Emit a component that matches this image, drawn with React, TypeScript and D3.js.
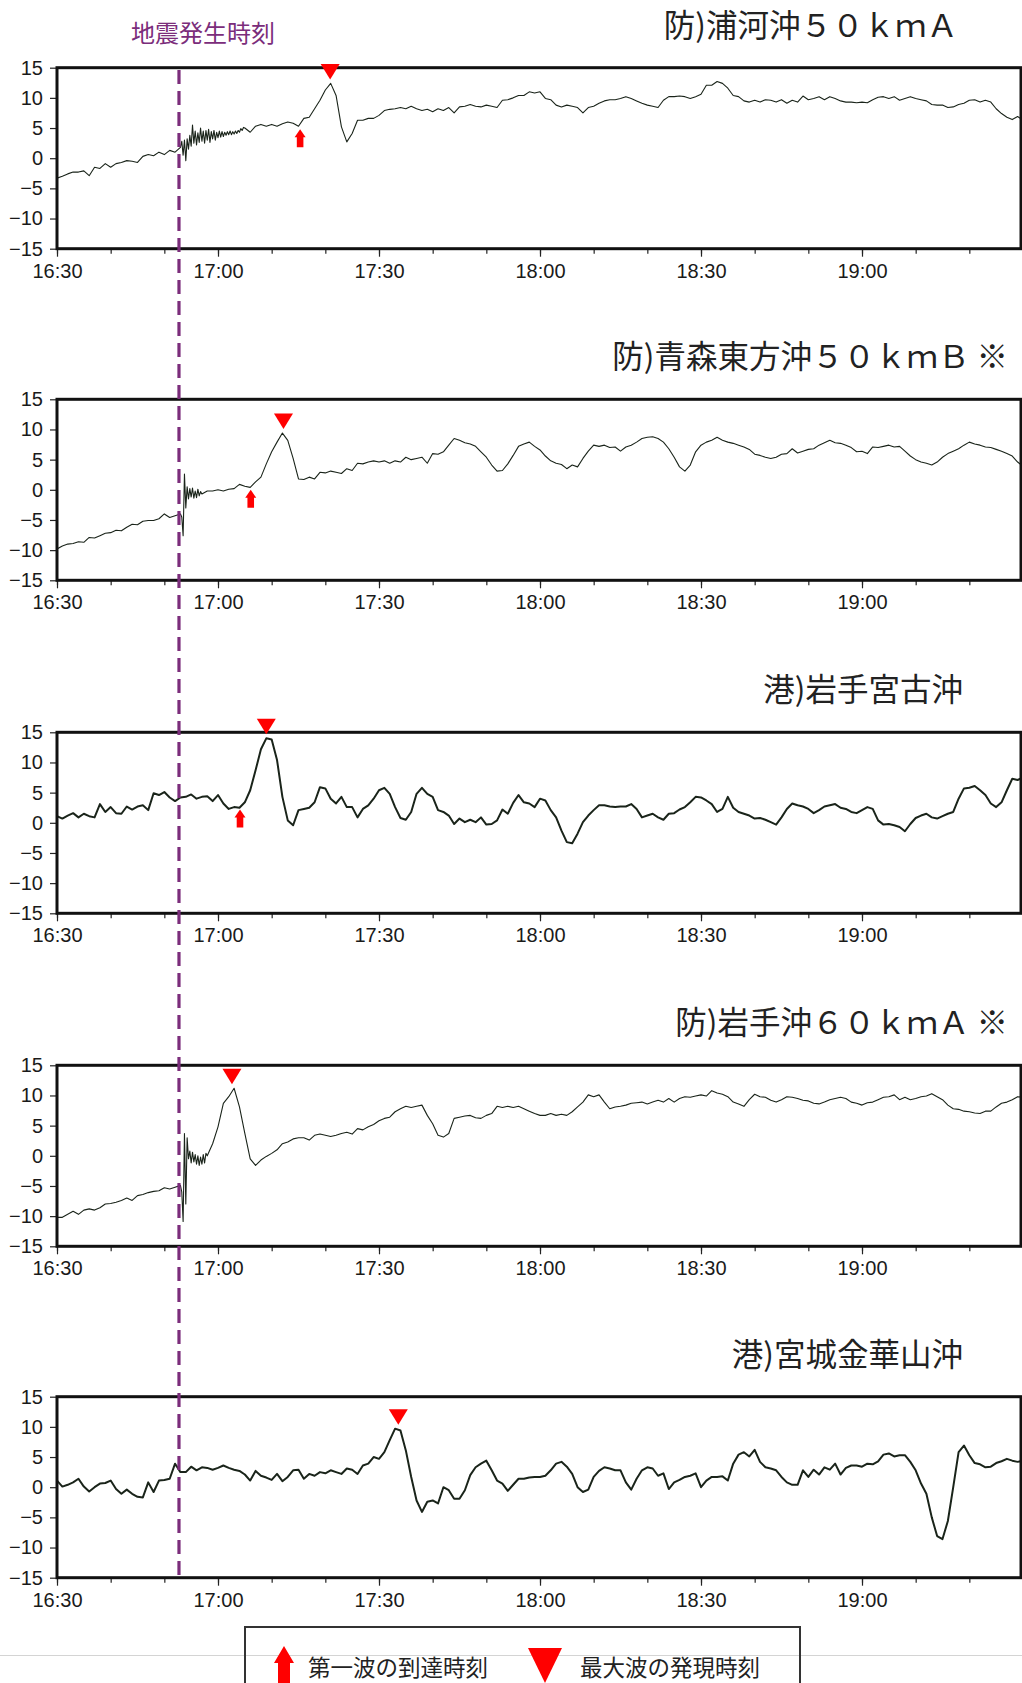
import React, { useEffect, useRef } from "react";
import * as d3 from "d3";

// tide gauge records, cm, one value per minute from 16:30
const stationNames = [
  "防)浦河沖５０ｋｍＡ",
  "防)青森東方沖５０ｋｍＢ ※",
  "港)岩手宮古沖",
  "防)岩手沖６０ｋｍＡ ※",
  "港)宮城金華山沖",
];

const urakawa = [
  -3.3, -3.0, -2.6, -2.3, -2.3, -2.1, -2.9, -1.5, -1.7, -0.9,
  -1.5, -0.9, -0.7, -0.4, -0.5, -0.7, 0.3, 0.6, 0.4, 1.0,
  0.6, 1.3, 1.0, 1.8, 2.4, 4.1, 3.0, 3.5, 3.8, 3.5,
  4.1, 4.1, 4.2, 4.3, 4.9, 5.2, 4.3, 5.3, 5.6, 5.3,
  5.6, 5.3, 5.7, 6.0, 5.8, 5.3, 6.6, 6.8, 8.2, 9.6,
  11.3, 12.4, 10.4, 5.2, 2.7, 4.1, 6.3, 6.3, 6.6, 6.6,
  7.1, 7.9, 8.1, 8.2, 8.4, 8.2, 8.6, 8.2, 7.9, 8.1,
  7.7, 8.2, 7.9, 8.4, 7.5, 8.5, 8.6, 8.9, 8.6, 8.5,
  8.8, 8.6, 8.4, 9.6, 9.7, 10.0, 10.4, 10.4, 11.0, 10.8,
  11.0, 9.9, 9.7, 8.8, 8.5, 8.8, 8.6, 8.4, 7.5, 8.4,
  8.6, 9.1, 9.5, 9.7, 9.7, 9.9, 10.2, 9.9, 9.5, 9.1,
  8.8, 8.6, 8.4, 9.6, 10.2, 10.2, 10.3, 10.2, 9.9, 10.2,
  10.6, 12.1, 12.1, 12.7, 12.4, 11.6, 10.4, 10.2, 9.5, 9.3,
  9.6, 9.3, 9.7, 9.6, 9.3, 9.7, 9.1, 9.6, 9.3, 10.3,
  9.7, 9.9, 10.2, 9.7, 10.2, 9.9, 9.5, 9.3, 9.3, 9.2,
  9.3, 9.2, 9.7, 10.1, 10.2, 9.9, 10.2, 9.6, 9.9, 10.2,
  9.9, 9.7, 9.5, 8.9, 8.8, 8.8, 8.4, 8.5, 8.9, 9.1,
  9.6, 9.7, 9.3, 9.6, 9.3, 8.2, 7.4, 6.8, 6.4, 6.9, 6.3,
];

const aomori = [
  -9.8, -9.3, -9.0, -8.9, -8.6, -8.7, -7.9, -8.0, -7.6, -7.2,
  -7.1, -6.7, -6.8, -6.2, -5.7, -5.8, -5.2, -5.1, -5.1, -4.8,
  -4.0, -4.6, -4.3, -4.0, -0.7, -0.7, -0.9, -0.7, -0.2, -0.2,
  0.0, -0.2, 0.1, 0.2, 0.9, 0.6, 0.4, 1.3, 2.1, 4.3,
  6.3, 7.9, 9.4, 8.2, 5.2, 1.8, 1.7, 2.1, 1.8, 2.9,
  2.8, 3.1, 2.9, 2.7, 3.5, 3.2, 4.4, 4.3, 4.6, 4.8,
  4.6, 4.8, 4.4, 4.8, 4.6, 5.4, 5.0, 5.2, 5.4, 4.4,
  6.0, 5.9, 6.3, 7.4, 8.5, 8.2, 7.8, 7.6, 7.2, 6.3,
  5.4, 4.1, 3.1, 3.2, 4.3, 5.7, 7.2, 7.6, 7.9, 7.2,
  6.6, 5.6, 4.8, 4.4, 4.2, 3.5, 4.1, 3.8, 5.2, 6.4,
  7.4, 7.2, 7.4, 7.0, 7.1, 6.4, 7.1, 7.4, 7.9, 8.5,
  8.7, 8.8, 8.5, 7.9, 6.8, 5.4, 3.8, 3.1, 4.1, 6.3,
  7.4, 7.9, 8.2, 8.7, 8.2, 7.9, 7.7, 7.4, 7.1, 6.7,
  5.9, 5.7, 5.4, 5.2, 5.4, 5.9, 6.0, 6.8, 6.1, 6.4,
  6.7, 6.8, 7.4, 7.8, 8.2, 7.8, 7.7, 7.4, 7.0, 6.3,
  6.4, 6.0, 7.1, 7.0, 7.2, 7.4, 7.1, 7.2, 6.4, 5.6,
  5.0, 4.6, 4.4, 4.1, 4.6, 5.4, 6.0, 6.4, 6.8, 7.4,
  7.9, 7.6, 7.4, 7.1, 7.0, 6.7, 6.4, 6.0, 5.6, 4.6, 3.9,
];

const miyako = [
  1.1, 0.7, 1.2, 1.6, 0.9, 1.5, 1.1, 0.9, 3.1, 1.8,
  2.6, 1.6, 1.5, 2.7, 2.2, 2.7, 2.9, 2.1, 4.9, 4.6,
  5.1, 4.2, 3.6, 4.2, 4.3, 4.7, 4.0, 4.3, 4.4, 3.6,
  4.6, 3.2, 2.3, 2.6, 2.5, 3.4, 5.4, 8.7, 12.2, 14.0,
  13.8, 10.4, 4.3, 0.4, -0.4, 2.1, 2.3, 2.5, 3.4, 5.9,
  5.7, 4.0, 3.2, 4.3, 2.6, 2.6, 0.9, 2.3, 2.9, 4.0,
  5.4, 5.8, 4.8, 2.6, 0.8, 0.5, 1.8, 4.8, 5.8, 4.8,
  4.3, 2.1, 1.8, 1.2, -0.2, 0.7, 0.1, 0.5, 0.1, 0.9,
  -0.3, -0.2, 0.4, 2.2, 1.5, 3.3, 4.6, 3.4, 3.2, 2.6,
  4.0, 3.7, 2.1, 0.9, -1.3, -3.2, -3.4, -1.8, 0.1, 1.2,
  2.1, 2.9, 2.9, 2.7, 2.6, 2.7, 2.7, 3.1, 2.3, 0.9,
  1.2, 1.5, 0.9, 0.5, 1.5, 1.6, 2.2, 2.6, 3.4, 4.3,
  4.2, 3.7, 3.1, 1.8, 2.3, 4.3, 2.5, 1.8, 1.5, 1.2,
  0.7, 0.8, 0.5, 0.1, -0.3, 0.9, 2.3, 3.2, 2.9, 2.7,
  2.3, 1.6, 2.1, 2.7, 2.9, 3.1, 2.5, 2.3, 1.8, 1.6,
  2.1, 2.6, 2.3, 0.4, -0.3, -0.2, -0.4, -0.7, -1.4, -0.2,
  0.8, 1.2, 1.5, 0.9, 0.7, 1.1, 1.5, 1.8, 4.0, 5.7,
  5.8, 6.1, 5.4, 4.6, 3.2, 2.6, 3.4, 5.4, 7.3, 7.1, 7.5,
];

const iwate = [
  -10.2, -10.2, -9.7, -9.2, -9.7, -9.0, -8.8, -9.0, -8.6, -8.0,
  -7.9, -7.7, -7.4, -7.0, -7.4, -6.6, -6.4, -6.1, -5.9, -5.8,
  -5.3, -5.5, -5.2, -4.9, -0.5, 0.3, -0.8, -0.7, 0.0, 2.0,
  4.8, 8.7, 9.8, 11.2, 8.1, 3.7, -0.5, -1.6, -0.7, -0.1,
  0.4, 1.0, 2.0, 2.3, 2.8, 3.0, 3.0, 2.6, 3.4, 3.6,
  3.4, 3.2, 3.4, 3.7, 3.9, 3.6, 4.5, 4.3, 4.8, 5.2,
  5.8, 6.2, 6.4, 7.3, 7.8, 8.2, 8.0, 8.2, 8.4, 6.7,
  5.3, 3.4, 3.1, 3.7, 6.2, 6.4, 6.6, 6.7, 6.3, 6.2,
  6.7, 7.0, 8.2, 8.0, 8.2, 8.0, 8.2, 7.8, 7.4, 7.0,
  6.7, 6.7, 7.0, 6.7, 6.9, 6.7, 7.3, 8.1, 8.9, 10.1,
  9.8, 10.1, 8.9, 7.8, 8.1, 8.2, 8.4, 8.7, 8.8, 8.9,
  8.6, 8.9, 9.2, 8.9, 9.5, 8.9, 9.5, 9.8, 9.7, 9.9,
  10.1, 9.9, 10.8, 10.4, 10.2, 9.8, 8.9, 8.6, 8.2, 9.3,
  10.2, 9.8, 9.7, 9.2, 8.9, 9.3, 9.8, 9.7, 9.5, 9.2,
  9.1, 8.7, 8.6, 8.9, 9.3, 9.5, 9.7, 9.5, 8.9, 8.7,
  8.4, 8.8, 8.9, 9.3, 9.7, 9.8, 10.1, 9.3, 9.7, 9.3,
  9.5, 9.8, 9.9, 10.3, 9.8, 9.3, 8.4, 7.8, 7.7, 7.4,
  7.3, 7.1, 7.0, 7.4, 7.4, 8.1, 8.7, 8.9, 9.3, 9.8, 9.7,
];

const kinkasan = [
  1.1, 0.1, 0.4, 0.8, 1.4, 0.1, -0.7, 0.0, 0.6, 0.7,
  1.1, -0.3, -1.1, -0.4, -1.1, -1.6, -1.7, 0.8, -0.8, 1.1,
  1.2, 1.4, 3.9, 2.5, 2.5, 3.4, 2.8, 3.3, 3.2, 2.9,
  3.2, 3.6, 3.2, 2.9, 2.7, 2.1, 1.1, 2.7, 1.9, 1.6,
  1.2, 2.2, 1.0, 1.7, 2.8, 2.9, 1.4, 2.2, 1.9, 2.5,
  2.3, 2.8, 2.5, 2.2, 3.1, 2.9, 2.2, 3.6, 3.9, 5.0,
  4.7, 5.8, 7.8, 9.7, 9.4, 6.1, 1.7, -2.2, -4.1, -2.4,
  -2.2, -2.7, 0.0, -0.5, -1.9, -1.9, -0.5, 2.0, 3.3, 3.9,
  4.4, 2.8, 1.1, 0.6, -0.6, 0.4, 1.4, 1.4, 1.6, 1.7,
  1.7, 1.9, 2.8, 3.9, 4.2, 3.4, 2.2, 0.0, -0.8, -0.4,
  1.7, 2.7, 3.3, 3.1, 2.8, 2.8, 0.8, -0.4, 1.4, 2.8,
  3.3, 3.1, 1.9, 2.3, -0.3, 0.8, 1.2, 1.7, 1.9, 2.3,
  0.0, 1.1, 1.7, 1.7, 1.8, 1.1, 3.9, 5.4, 5.8, 5.1,
  6.2, 4.2, 3.3, 3.1, 2.8, 1.7, 0.8, 0.4, 0.4, 2.8,
  1.7, 2.9, 2.1, 3.3, 2.9, 3.9, 2.1, 3.2, 3.6, 3.6,
  3.4, 3.9, 3.8, 4.3, 5.4, 5.6, 5.1, 5.3, 5.3, 4.2,
  2.8, 0.6, -1.1, -5.0, -8.1, -8.6, -5.6, 0.0, 5.8, 6.9,
  5.3, 4.0, 3.8, 3.3, 3.4, 4.0, 4.3, 4.7, 4.4, 4.2, 4.4,
];

// high-rate segments right after the quake, every 15 s from 16:53
const burstStart = 23;
const burstStep = 0.25;
const urakawaBurst = [
  1.8, 2.8, 0.5, 3.0, -0.4, 3.2, 1.5, 3.8, 2.0, 5.5, 2.5, 4.5, 2.2, 4.2, 2.6, 5.0,
  2.8, 4.5, 2.5, 4.6, 3.0, 4.8, 2.6, 4.4, 3.2, 4.6, 3.0, 4.3, 3.4, 4.5, 3.5, 4.4,
  3.6, 4.3, 3.8, 4.4, 3.9, 4.5, 3.9, 4.4, 4.0, 4.5, 4.1, 4.6, 4.3, 4.9, 4.6, 5.1, 5.0,
];
const aomoriBurst = [
  -4.0, -4.5, -7.6, 2.6, -3.0, 0.5, -1.5, 0.2, -1.2, 0.3, -1.4, -0.2, -1.3, 0.1, -1.0, -0.3, -0.7,
];
const iwateBurst = [
  -4.9, -6.0, -10.9, 3.7, -8.0, 3.0, -0.5, 0.8, -1.2, 0.6, -1.0, 0.2, -1.4, 0.0, -1.6, -0.2,
  -1.4, 0.2, -1.2, 0.4, 0.0,
];

const series = [urakawa, aomori, miyako, iwate, kinkasan];
const bursts = [urakawaBurst, aomoriBurst, null, iwateBurst, null];

// markers: minutes after 16:30, and level (cm)
const quakeMin = 22.73;
const arrivalMin = [45.3, 36.1, 34.1, null, null];
const arrivalLevel = [4.8, 0.0, 2.2, null, null];
const maxMin = [50.9, 42.2, 39.0, 32.6, 63.6];
const maxLevel = [12.4, 9.4, 14.0, 11.2, 9.7];

const yTicks = [-15, -10, -5, 0, 5, 10, 15];
const legendLabels = ["第一波の到達時刻", "最大波の発現時刻"];
const quakeLabel = "地震発生時刻";

const W = 1022;
const H = 1683;
const plotLeft = 57;
const plotRight = 1021;
const panelTops = [67.7, 399.3, 732.3, 1065.3, 1396.7];
const panelH = 181;
const titleRight = [958, 1008, 963, 1008, 963];
const lineWidth = [1.1, 1.1, 2, 1.1, 2];

const jp = "'Noto Sans CJK JP', 'Noto Sans', sans-serif";
const latin = "'Liberation Sans', Arial, Helvetica, sans-serif";
const purple = "#7b2d7b";
const traceColor = "#1a241a";

const App = () => {
  const ref = useRef<SVGSVGElement>(null);

  useEffect(() => {
    const svg = d3.select(ref.current);
    svg.selectAll("*").remove();

    const t0 = new Date(2000, 0, 1, 16, 30);
    const at = (m: number) => new Date(t0.getTime() + m * 60000);
    const x = d3.scaleTime().domain([t0, at(180)]).range([plotLeft, 1023]);

    series.forEach((vals, i) => {
      const top = panelTops[i];
      const y = d3.scaleLinear().domain([-15, 15]).range([top + panelH, top]);
      const g = svg.append("g");

      // title
      g.append("text")
        .attr("x", titleRight[i])
        .attr("y", top - 31)
        .attr("text-anchor", "end")
        .style("font-family", jp)
        .style("font-size", "31.5px")
        .style("fill", "#222")
        .text(stationNames[i]);

      // points
      let pts = vals.map((v, k) => ({ m: k, v }));
      const b = bursts[i];
      if (b) {
        const end = burstStart + (b.length - 1) * burstStep;
        pts = pts.filter((p) => p.m < burstStart || p.m > end);
        b.forEach((v, k) => pts.push({ m: burstStart + k * burstStep, v }));
        pts.sort((a, c) => a.m - c.m);
      }

      const clipId = `clip${i}`;
      svg.append("clipPath").attr("id", clipId)
        .append("rect")
        .attr("x", plotLeft).attr("y", top)
        .attr("width", plotRight - plotLeft).attr("height", panelH);

      const line = d3.line<{ m: number; v: number }>()
        .x((d) => x(at(d.m)))
        .y((d) => y(d.v));

      g.append("path")
        .datum(pts)
        .attr("clip-path", `url(#${clipId})`)
        .attr("d", line)
        .attr("fill", "none")
        .attr("stroke", traceColor)
        .attr("stroke-width", lineWidth[i])
        .attr("stroke-linejoin", "round");

      // axes
      const yAxis = g.append("g")
        .attr("transform", `translate(${plotLeft},0)`)
        .call(d3.axisLeft(y).tickValues(yTicks).tickSize(7).tickPadding(7)
          .tickFormat((d) => String(d).replace("-", "\u2212")));
      const xMinor = g.append("g")
        .attr("transform", `translate(0,${top + panelH})`)
        .call(d3.axisBottom(x).ticks(d3.timeMinute.every(10)).tickSize(5).tickFormat(() => ""));
      const xAxis = g.append("g")
        .attr("transform", `translate(0,${top + panelH})`)
        .call(d3.axisBottom(x).ticks(d3.timeMinute.every(30)).tickSize(8).tickPadding(7)
          .tickFormat((d) => d3.timeFormat("%H:%M")(d as Date)));
      [yAxis, xMinor, xAxis].forEach((a) => {
        a.select(".domain").remove();
        a.selectAll("line").attr("stroke", "#222").attr("stroke-width", 1.2);
        a.selectAll("text")
          .style("font-family", latin)
          .style("font-size", "20px")
          .attr("fill", "#1a1a1a");
      });
      xAxis.selectAll(".tick").filter((d) => +(d as Date) >= +at(180)).remove();

      // frame
      g.append("rect")
        .attr("x", plotLeft).attr("y", top)
        .attr("width", plotRight - plotLeft).attr("height", panelH)
        .attr("fill", "none").attr("stroke", "#111").attr("stroke-width", 3);

      // first arrival arrow
      const am = arrivalMin[i];
      const al = arrivalLevel[i];
      if (am != null && al != null) {
        const ax = x(at(am));
        const ay = y(al);
        g.append("path")
          .attr("d", `M${ax},${ay} L${ax + 5.5},${ay + 8} L${ax + 3.3},${ay + 8} L${ax + 3.3},${ay + 18} L${ax - 3.3},${ay + 18} L${ax - 3.3},${ay + 8} L${ax - 5.5},${ay + 8} Z`)
          .attr("fill", "#ff0000");
      }

      // max wave triangle
      const mx = x(at(maxMin[i]));
      const my = y(maxLevel[i]) - 4;
      g.append("path")
        .attr("d", `M${mx},${my} L${mx + 9.5},${my - 15.5} L${mx - 9.5},${my - 15.5} Z`)
        .attr("fill", "#ff0000");
    });

    // quake time dashed line
    const qx = x(at(quakeMin));
    svg.append("line")
      .attr("x1", qx).attr("x2", qx)
      .attr("y1", 70).attr("y2", panelTops[4] + panelH)
      .attr("stroke", purple).attr("stroke-width", 3.2)
      .attr("stroke-dasharray", "14 7");
    svg.append("text")
      .attr("x", 131).attr("y", 42)
      .style("font-family", jp).style("font-size", "24px")
      .style("fill", purple)
      .text(quakeLabel);

    // legend
    svg.append("line")
      .attr("x1", 0).attr("x2", W).attr("y1", 1655.5).attr("y2", 1655.5)
      .attr("stroke", "#d4d4d4").attr("stroke-width", 1);
    svg.append("rect")
      .attr("x", 245).attr("y", 1627).attr("width", 555).attr("height", 80)
      .attr("fill", "none").attr("stroke", "#333").attr("stroke-width", 2);
    const lx = 284;
    const ly = 1646;
    svg.append("path")
      .attr("d", `M${lx},${ly} L${lx + 10},${ly + 17} L${lx + 6},${ly + 17} L${lx + 6},${ly + 45} L${lx - 6},${ly + 45} L${lx - 6},${ly + 17} L${lx - 10},${ly + 17} Z`)
      .attr("fill", "#ff0000");
    svg.append("path")
      .attr("d", "M528,1648 L562,1648 L545,1683 Z")
      .attr("fill", "#ff0000");
    [308, 580].forEach((tx, k) => {
      svg.append("text")
        .attr("x", tx).attr("y", 1676)
        .style("font-family", jp).style("font-size", "22.5px")
        .style("fill", "#222")
        .text(legendLabels[k]);
    });
  }, []);

  return (
    <svg
      ref={ref}
      width={W}
      height={H}
      style={{ position: "absolute", left: 0, top: 0, background: "#fff" }}
    />
  );
};

export default App;
